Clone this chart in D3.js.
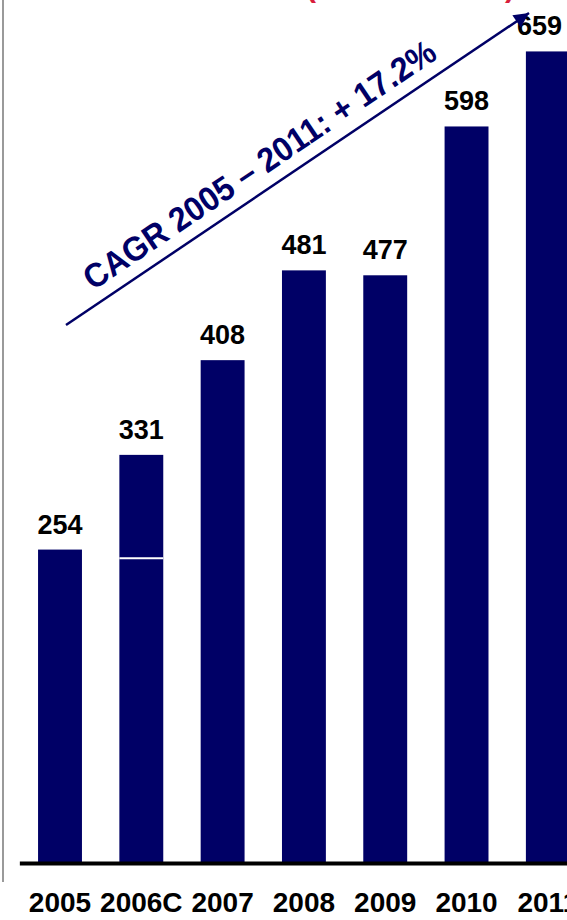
<!DOCTYPE html>
<html>
<head>
<meta charset="utf-8">
<script src="https://cdn.jsdelivr.net/npm/d3@7"></script>
<style>
  html, body { margin: 0; padding: 0; background: #fff; }
  svg { display: block; }
  text { font-family: "Liberation Sans", Arial, sans-serif; font-weight: bold; }
</style>
</head>
<body>
<svg id="chart" width="567" height="920"></svg>
<script>
const categories = ["2005", "2006C", "2007", "2008", "2009", "2010", "2011"];
const values = [254, 331, 408, 481, 477, 598, 659];
const splitValues = [null, 247, null, null, null, null, null];
const cagrLabel = "CAGR 2005 \u2013 2011: + 17.2%";

const W = 567;
const navy = "#000066";
const svg = d3.select("#chart");

const x = d3.scaleBand()
  .domain(categories)
  .range([19.35, 588.5])
  .paddingInner(0.46)
  .paddingOuter(0.23);

const y = d3.scaleLinear().domain([0, 700]).range([862, 1]);

// left gray frame line
svg.append("line")
  .attr("x1", 3).attr("x2", 3).attr("y1", 0).attr("y2", 882)
  .attr("stroke", "#9a9a9a").attr("stroke-width", 2);

// red title (cut off at top)
svg.append("text").attr("x", 306).attr("y", -3)
  .attr("fill", "#d81e3c").attr("font-size", 30).text("(");
svg.append("text").attr("x", 505).attr("y", -3)
  .attr("fill", "#d81e3c").attr("font-size", 30).text(")");

// bars
svg.append("g").selectAll("rect")
  .data(values)
  .join("rect")
  .attr("x", (d, i) => x(categories[i]))
  .attr("width", x.bandwidth())
  .attr("y", d => y(d))
  .attr("height", d => y(0) - y(d))
  .attr("fill", navy);

// split line in 2006C bar
svg.append("g").selectAll("line")
  .data(splitValues.map((v, i) => ({ v, c: categories[i] })).filter(d => d.v != null))
  .join("line")
  .attr("x1", d => x(d.c)).attr("x2", d => x(d.c) + x.bandwidth())
  .attr("y1", d => y(d.v)).attr("y2", d => y(d.v))
  .attr("stroke", "#fff").attr("stroke-width", 2);

// value labels
svg.append("g").selectAll("text")
  .data(values)
  .join("text")
  .attr("y", d => y(d) - 16)
  .attr("text-anchor", "middle")
  .attr("font-size", 27)
  .attr("fill", "#000")
  .text(d => d)
  .attr("x", function (d, i) {
    const c = x(categories[i]) + x.bandwidth() / 2;
    const hw = this.getComputedTextLength() / 2;
    return Math.min(c, W - 5 - hw);
  });

// x axis
const axis = svg.append("g")
  .attr("transform", "translate(0,863)")
  .call(d3.axisBottom(x).tickSize(0).tickSizeOuter(0).tickPadding(29));
axis.select(".domain").attr("stroke", "#000").attr("stroke-width", 4);
axis.selectAll("text")
  .attr("font-size", 28)
  .attr("font-family", "'Liberation Sans', Arial, sans-serif")
  .attr("font-weight", "bold")
  .attr("fill", "#000");

// CAGR arrow
const defs = svg.append("defs");
defs.append("marker")
  .attr("id", "arrowhead")
  .attr("viewBox", "0 0 10 10")
  .attr("refX", 10).attr("refY", 5)
  .attr("markerWidth", 7).attr("markerHeight", 6)
  .attr("markerUnits", "strokeWidth")
  .attr("orient", "auto")
  .append("path").attr("d", "M0,0 L10,5 L0,10 Z").attr("fill", navy);

svg.append("line")
  .attr("x1", 66).attr("y1", 325).attr("x2", 529).attr("y2", 13)
  .attr("stroke", navy).attr("stroke-width", 2.5)
  .attr("marker-end", "url(#arrowhead)");

svg.append("text")
  .attr("transform", "translate(93,291) rotate(-34) scale(1,1.06)")
  .attr("fill", navy)
  .attr("font-size", 32)
  .text(cagrLabel);
</script>
</body>
</html>
